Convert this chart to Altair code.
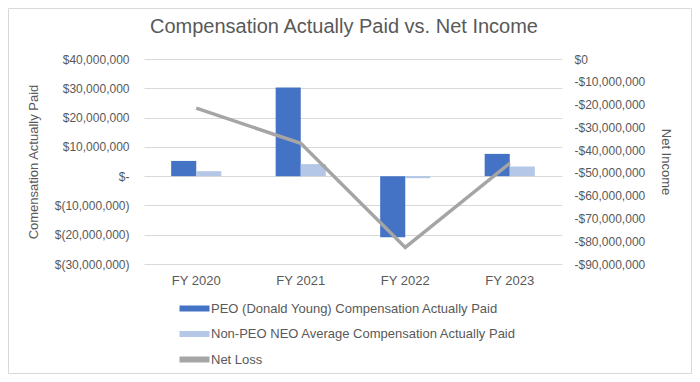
import altair as alt
import pandas as pd

categories = ["FY 2020", "FY 2021", "FY 2022", "FY 2023"]
peo_cap = [5.2e6, 30.3e6, -20.9e6, 7.6e6]
non_peo_cap = [1.7e6, 4.1e6, -0.7e6, 3.3e6]
net_loss = [-21.6e6, -37.0e6, -82.7e6, -45.8e6]

series_names = [
    "PEO (Donald Young) Compensation Actually Paid",
    "Non-PEO NEO Average Compensation Actually Paid",
    "Net Loss",
]
series_colors = ["#4472C4", "#B4C7E7", "#A5A5A5"]
left_ticks = [-30e6, -20e6, -10e6, 0, 10e6, 20e6, 30e6, 40e6]
right_ticks = [-90e6, -80e6, -70e6, -60e6, -50e6, -40e6, -30e6, -20e6, -10e6, 0]

FONT = "Liberation Sans"
TXT = "#595959"

bars_df = pd.DataFrame({
    "year": categories * 2,
    "series": [series_names[0]] * 4 + [series_names[1]] * 4,
    "value": peo_cap + non_peo_cap,
})
line_df = pd.DataFrame({"year": categories, "net": net_loss})

x_enc = alt.X(
    "year:N", sort=categories,
    scale=alt.Scale(paddingInner=0.52, paddingOuter=0.26),
    axis=alt.Axis(title=None, labelAngle=0, labelFontSize=13, labelColor=TXT,
                  labelFont=FONT, labelPadding=10, domain=False, ticks=False, grid=False),
)

NB = "\u00a0"
left_expr = (
    "datum.value == 0 ? '$-" + NB * 4 + "' : (datum.value < 0 ? '$(' + format(-datum.value, ',') + ')' : "
    "'$' + format(datum.value, ',') + '" + NB + "')"
)
right_expr = "datum.value == 0 ? '$0' : '-$' + format(-datum.value, ',')"

bars = alt.Chart(bars_df).mark_bar().encode(
    x=x_enc,
    xOffset=alt.XOffset("series:N", sort=series_names[:2],
                        scale=alt.Scale(domain=series_names[:2], paddingInner=0, paddingOuter=0)),
    y=alt.Y("value:Q",
            scale=alt.Scale(domain=[-30e6, 40e6], nice=False, zero=False),
            axis=alt.Axis(orient="left", values=left_ticks, labelExpr=left_expr,
                          title="Comensation Actually Paid", titleFontSize=13,
                          titleFont=FONT, titleColor=TXT, titleFontWeight="normal",
                          titleX=-111, titleY=102.5, titleAngle=270,
                          titleBaseline="middle", titleAlign="center",
                          labelFontSize=12, labelFont=FONT, labelColor=TXT,
                          labelPadding=15, domain=False, ticks=False,
                          grid=True, gridColor="#D9D9D9", gridWidth=1)),
    color=alt.Color("series:N",
                    scale=alt.Scale(domain=series_names, range=series_colors),
                    legend=alt.Legend(orient="none", legendX=44, legendY=243,
                                      direction="vertical", title=None,
                                      symbolType="M-3,-0.6H3V0.6H-3Z", symbolSize=100,
                                      symbolStrokeWidth=0, labelFontSize=13,
                                      labelFont=FONT, labelColor=TXT, labelLimit=500,
                                      rowPadding=11.5, labelOffset=10)),
)

line = alt.Chart(line_df).mark_line(color=series_colors[2], strokeWidth=3.5).encode(
    x=x_enc,
    y=alt.Y("net:Q",
            scale=alt.Scale(domain=[-90e6, 0], nice=False, zero=False),
            axis=alt.Axis(orient="right", values=right_ticks, labelExpr=right_expr,
                          title="Net Income", titleFontSize=13, titleFont=FONT,
                          titleColor=TXT, titleFontWeight="normal",
                          titleX=103, titleY=102.5, titleAngle=90,
                          titleBaseline="middle", titleAlign="center",
                          labelFontSize=12, labelFont=FONT, labelColor=TXT,
                          labelPadding=12, domain=False, ticks=False, grid=False)),
)

border = alt.Chart(alt.Data(values=[{}])).mark_rect(
    filled=False, stroke="#D9D9D9", strokeWidth=1
).encode(
    x=alt.value(-135.5), x2=alt.value(547.5),
    y=alt.value(-50.5), y2=alt.value(314.5),
)

chart = alt.layer(border, bars, line).resolve_scale(y="independent").properties(
    width=418, height=205,
    padding={"left": 136, "top": 51, "right": 130, "bottom": 110},
    autosize=alt.AutoSizeParams(type="none"),
    title=alt.TitleParams("Compensation Actually Paid vs. Net Income", fontSize=20,
                          font=FONT, color=TXT, fontWeight="normal", anchor="middle",
                          frame="group", baseline="alphabetic", offset=-45, dx=-9),
).configure_view(stroke=None)

chart.save("out.html", embed_options={"renderer": "svg", "actions": False})
